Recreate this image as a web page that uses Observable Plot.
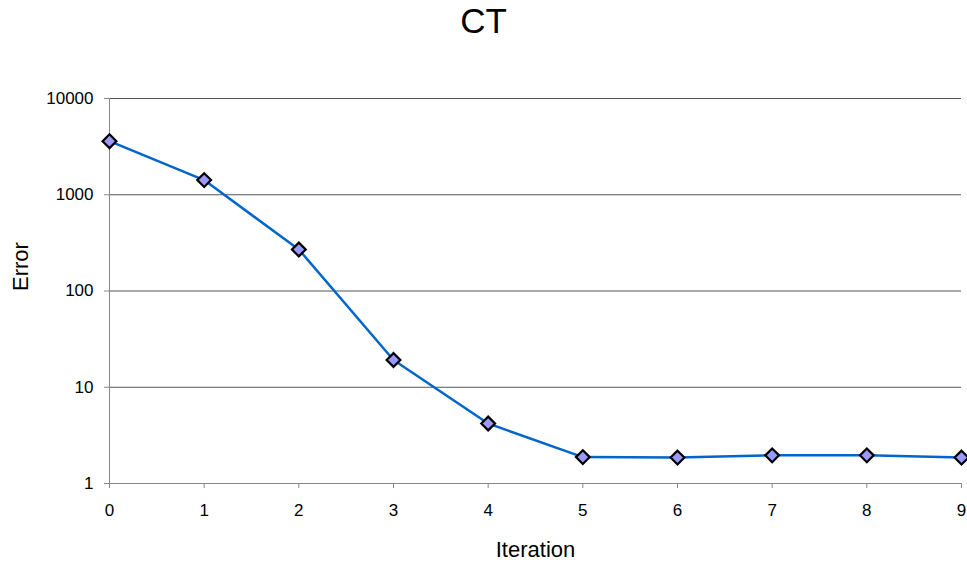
<!DOCTYPE html>
<html><head><meta charset="utf-8">
<script src="https://cdn.jsdelivr.net/npm/d3@7"></script>
<script src="https://cdn.jsdelivr.net/npm/@observablehq/plot@0.6"></script>
<style>
body{margin:0;background:#fff;font-family:"Liberation Sans",Arial,sans-serif;}
#title{width:967px;height:40px;line-height:42px;text-align:center;font-size:35px;color:#000;}
</style></head><body>
<div id="title">CT</div>
<div id="chart"></div>
<script>
const iterations = [0, 1, 2, 3, 4, 5, 6, 7, 8, 9];
const errors = [3600, 1420, 270, 19.2, 4.2, 1.88, 1.86, 1.96, 1.96, 1.86];
const yTicks = [1, 10, 100, 1000, 10000];
const xTicks = [0, 1, 2, 3, 4, 5, 6, 7, 8, 9];
const xLabel = "Iteration";
const yLabel = "Error";

const data = iterations.map((x, i) => ({iteration: x, error: errors[i]}));

const chart = Plot.plot({
  width: 967, height: 523,
  marginLeft: 109, marginRight: 6, marginTop: 58, marginBottom: 80,
  style: {fontFamily: "'Liberation Sans', Arial, sans-serif", fontSize: "17px", color: "#000", background: "#fff"},
  x: {domain: [0, 9]},
  y: {type: "log", domain: [1, 10000]},
  marks: [
    Plot.ruleY(yTicks, {stroke: "#555", strokeWidth: 1}),
    Plot.ruleX([0], {stroke: "#888", strokeWidth: 1}),
    Plot.ruleY([1], {stroke: "#888", strokeWidth: 1}),
    Plot.axisY(yTicks, {tickSize: 5, tickPadding: 11, tickFormat: d => String(d), stroke: "#888", fontSize: 17, label: null}),
    Plot.axisX(xTicks, {tickSize: 5, tickPadding: 15, tickFormat: d => String(d), stroke: "#888", fontSize: 17, label: null}),
    Plot.line(data, {x: "iteration", y: "error", stroke: "#0066cc", strokeWidth: 2.5}),
    Plot.dot(data, {x: "iteration", y: "error", symbol: "diamond2", r: 6.2, fill: "#9999ff", stroke: "#000", strokeWidth: 2.2}),
    Plot.text([xLabel], {frameAnchor: "bottom", dy: 73, lineAnchor: "bottom", fontSize: 22, fill: "#000"}),
    Plot.text([yLabel], {frameAnchor: "left", rotate: -90, dx: -82, lineAnchor: "bottom", fontSize: 22, fill: "#000"})
  ]
});
document.getElementById("chart").appendChild(chart);
</script>
</body></html>
